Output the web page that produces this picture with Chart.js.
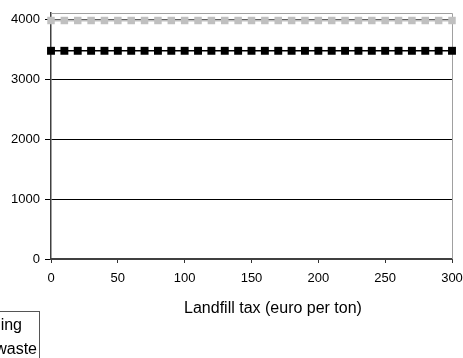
<!DOCTYPE html>
<html>
<head>
<meta charset="utf-8">
<script src="https://cdn.jsdelivr.net/npm/chart.js@4/dist/chart.umd.min.js"></script>
<style>
  html, body { margin: 0; padding: 0; background: #ffffff; }
  #wrap { position: relative; width: 463px; height: 358px; }
</style>
</head>
<body>
<div id="wrap"><canvas id="c" width="463" height="358"></canvas></div>
<script>
// Landfill tax levels (euro per ton), one point every 10 euro
const taxLevels = [0,10,20,30,40,50,60,70,80,90,100,110,120,130,140,150,160,170,180,190,200,210,220,230,240,250,260,270,280,290,300];

// Series values (flat over the whole tax range)
const recyclingValues = [3975,3975,3975,3975,3975,3975,3975,3975,3975,3975,3975,3975,3975,3975,3975,3975,3975,3975,3975,3975,3975,3975,3975,3975,3975,3975,3975,3975,3975,3975,3975];
const wasteValues     = [3470,3470,3470,3470,3470,3470,3470,3470,3470,3470,3470,3470,3470,3470,3470,3470,3470,3470,3470,3470,3470,3470,3470,3470,3470,3470,3470,3470,3470,3470,3470];

const seriesLabels = ['Recycling', 'Residual waste'];
const yTickValues = [0, 1000, 2000, 3000, 4000];
const xTickValues = [0, 50, 100, 150, 200, 250, 300];
const xAxisTitle = 'Landfill tax (euro per ton)';

const FONT = '"Liberation Sans", Arial, sans-serif';

function toPoints(xs, ys) {
  return xs.map((x, i) => ({ x: x, y: ys[i] }));
}

// Grey frame on the top and right of the plot area
const plotFrame = {
  id: 'plotFrame',
  beforeDatasetsDraw(chart) {
    const { ctx, chartArea: a } = chart;
    ctx.save();
    ctx.strokeStyle = '#a0a0a0';
    ctx.lineWidth = 1;
    ctx.beginPath();
    ctx.moveTo(Math.round(a.left) + 0.5, Math.round(a.top) + 0.5);
    ctx.lineTo(Math.round(a.right) + 0.5, Math.round(a.top) + 0.5);
    ctx.lineTo(Math.round(a.right) + 0.5, Math.round(a.bottom));
    ctx.stroke();
    ctx.restore();
  }
};

// Axis title and boxed legend (legend sits partly past the left edge)
const annotations = {
  id: 'annotations',
  afterDraw(chart) {
    const { ctx } = chart;
    ctx.save();
    ctx.fillStyle = '#000';
    ctx.font = '16px ' + FONT;
    ctx.textAlign = 'center';
    ctx.textBaseline = 'middle';
    ctx.fillText(xAxisTitle, 273, 309);

    ctx.strokeStyle = '#555';
    ctx.lineWidth = 1;
    ctx.strokeRect(-160.5, 311.5, 200, 70);
    ctx.textAlign = 'right';
    ctx.textBaseline = 'alphabetic';
    const ends = [22, 37];
    const baselines = [330, 354];
    chart.data.datasets.forEach((ds, i) => {
      ctx.fillText(ds.label, ends[i], baselines[i]);
    });
    ctx.restore();
  }
};

new Chart(document.getElementById('c'), {
  type: 'line',
  data: {
    datasets: [
      {
        label: seriesLabels[0],
        data: toPoints(taxLevels, recyclingValues),
        borderColor: '#c0c0c0',
        backgroundColor: '#c0c0c0',
        borderWidth: 2,
        pointStyle: 'rect',
        pointRadius: 5.3,
        pointBorderWidth: 0,
        pointBackgroundColor: '#c0c0c0',
        clip: false
      },
      {
        label: seriesLabels[1],
        data: toPoints(taxLevels, wasteValues),
        borderColor: '#000000',
        backgroundColor: '#000000',
        borderWidth: 1.5,
        pointStyle: 'rect',
        pointRadius: 5.6,
        pointBorderWidth: 0,
        pointBackgroundColor: '#000000',
        clip: false
      }
    ]
  },
  options: {
    responsive: false,
    animation: false,
    layout: { padding: { top: 13, right: 0, left: 0, bottom: 0 } },
    plugins: {
      legend: { display: false },
      tooltip: { enabled: false },
      title: { display: false }
    },
    scales: {
      x: {
        type: 'linear',
        min: 0,
        max: 300,
        afterBuildTicks(scale) { scale.ticks = xTickValues.map(v => ({ value: v })); },
        afterFit(scale) { scale.height = 99; scale.paddingRight = 11; },
        grid: { drawOnChartArea: false, drawTicks: true, tickLength: 4, color: '#333', lineWidth: 1 },
        border: { display: true, color: '#404040', width: 2 },
        ticks: {
          color: '#000', font: { family: FONT, size: 13 }, padding: 8, maxRotation: 0,
          callback: v => String(v)
        }
      },
      y: {
        type: 'linear',
        min: 0,
        max: 4100,
        afterBuildTicks(scale) { scale.ticks = yTickValues.map(v => ({ value: v })); },
        afterFit(scale) { scale.width = 51; },
        grid: { drawOnChartArea: true, drawTicks: true, tickLength: 6, color: '#000', lineWidth: 1 },
        border: { display: true, color: '#404040', width: 1.5 },
        ticks: {
          color: '#000', font: { family: FONT, size: 13 }, padding: 5,
          callback: v => String(v)
        }
      }
    }
  },
  plugins: [plotFrame, annotations]
});
</script>
</body>
</html>
